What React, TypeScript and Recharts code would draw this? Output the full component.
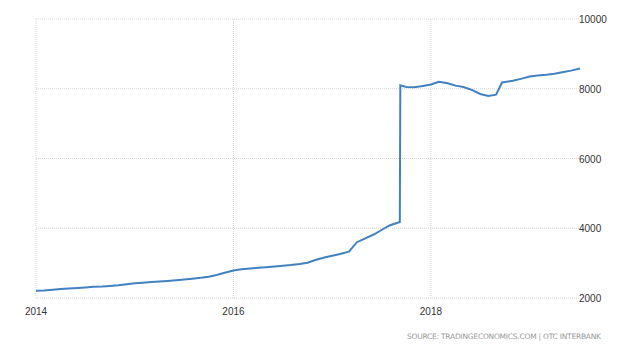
import React from "react";
import { LineChart, Line, XAxis, YAxis, CartesianGrid } from "recharts";

// Dates as decimal years, USD/UZS values
const dates: number[] = [
  2014.0, 2014.08, 2014.17, 2014.25, 2014.33, 2014.42, 2014.5, 2014.58, 2014.67, 2014.75, 2014.83, 2014.92,
  2015.0, 2015.08, 2015.17, 2015.25, 2015.33, 2015.42, 2015.5, 2015.58, 2015.67, 2015.75, 2015.83, 2015.92,
  2016.0, 2016.08, 2016.17, 2016.25, 2016.33, 2016.42, 2016.5, 2016.58, 2016.67, 2016.75, 2016.83, 2016.92,
  2017.0, 2017.08, 2017.17, 2017.25, 2017.33, 2017.42, 2017.5, 2017.58, 2017.685, 2017.69,
  2017.75, 2017.83, 2017.92, 2018.0, 2018.08, 2018.17, 2018.25, 2018.33, 2018.42, 2018.5, 2018.58, 2018.66, 2018.72,
  2018.83, 2018.92, 2019.0, 2019.08, 2019.17, 2019.25, 2019.33, 2019.42, 2019.51,
];
const values: number[] = [
  2205, 2215, 2235, 2255, 2270, 2285, 2300, 2320, 2330, 2345, 2365, 2395,
  2420, 2440, 2460, 2475, 2490, 2510, 2530, 2555, 2580, 2610, 2660, 2730,
  2790, 2825, 2845, 2865, 2885, 2905, 2925, 2945, 2975, 3010, 3090, 3160,
  3210, 3260, 3330, 3600, 3700, 3820, 3950, 4080, 4180, 8100,
  8050, 8040, 8080, 8120, 8200, 8160, 8090, 8050, 7960, 7850, 7790, 7830, 8180,
  8230, 8290, 8350, 8380, 8400, 8430, 8470, 8520, 8580,
];
const xTicks: number[] = [2014, 2016, 2018];
const xDomain: [number, number] = [2014, 2019.51];
const yTicks: number[] = [2000, 4000, 6000, 8000, 10000];
const sourceText = "SOURCE: TRADINGECONOMICS.COM | OTC INTERBANK";

const data = dates.map((d, i) => ({ t: d, v: values[i] }));

const YTick = (props: any) => {
  const { x, y, payload } = props;
  return (
    <text x={x} y={y} dx={-3} dy={4} textAnchor="start" fontSize={10} fill="#333" fontFamily="Liberation Sans, Arial, sans-serif">
      {payload.value}
    </text>
  );
};

const XTick = (props: any) => {
  const { x, y, payload } = props;
  return (
    <text x={x} y={y} dy={9} textAnchor="middle" fontSize={10} fill="#333" fontFamily="Liberation Sans, Arial, sans-serif">
      {payload.value}
    </text>
  );
};

const vGen = (args: any) => {
  const xAxis = args && args.xAxis;
  if (xAxis && typeof xAxis.scale === "function") {
    return xTicks.map((t) => xAxis.scale(t));
  }
  const off = args.offset;
  return xTicks.map((t) => off.left + ((t - xDomain[0]) / (xDomain[1] - xDomain[0])) * off.width);
};

export default function App() {
  return (
    <div style={{ position: "absolute", left: 0, top: 0, width: 640, height: 351, background: "#fff" }}>
      <LineChart width={640} height={351} data={data} margin={{ top: 19, right: 0, bottom: 0, left: 36 }}>
        <CartesianGrid stroke="#d6d6d6" strokeDasharray="1 1" verticalCoordinatesGenerator={vGen} />
        <XAxis
          dataKey="t"
          type="number"
          domain={xDomain}
          ticks={xTicks}
          axisLine={false}
          tickLine={false}
          height={53}
          tick={<XTick />}
          interval={0}
        />
        <YAxis
          orientation="right"
          domain={[2000, 10000]}
          ticks={yTicks}
          axisLine={false}
          tickLine={false}
          tickSize={0}
          tickMargin={2}
          width={60}
          tick={<YTick />}
          interval={0}
        />
        <Line
          type="linear"
          dataKey="v"
          stroke="#4281bf"
          strokeWidth={2}
          dot={false}
          isAnimationActive={false}
        />
      </LineChart>
      <svg style={{ position: "absolute", left: 0, top: 0 }} width={640} height={351}>
        <text x={407} y={339} fontSize={7.5} fill="#999" fontFamily="DejaVu Sans, sans-serif" textLength={194} lengthAdjust="spacing">
          {sourceText}
        </text>
      </svg>
    </div>
  );
}
